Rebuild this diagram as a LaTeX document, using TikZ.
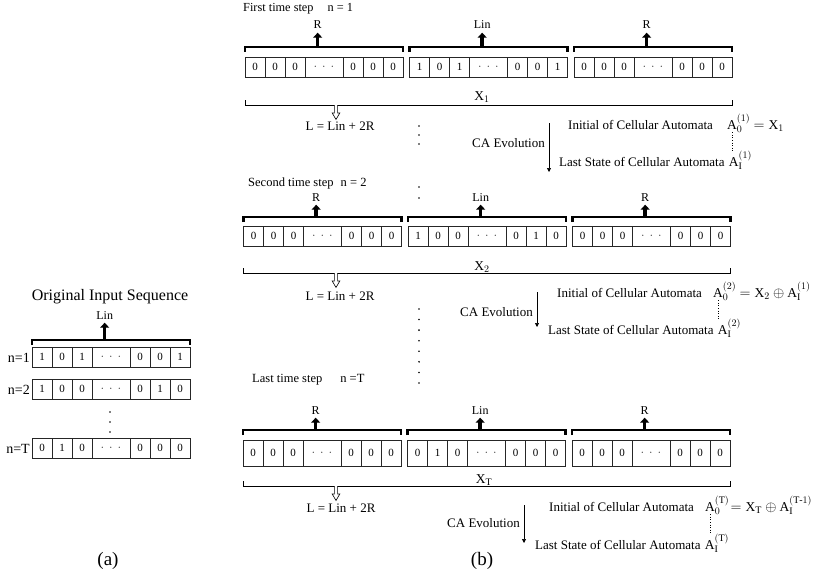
\documentclass[tikz,border=0pt]{standalone}
\usepackage{fontspec}
\setmainfont{Liberation Serif}
\usetikzlibrary{arrows.meta}
\DeclareMathSizes{13.5}{13.5}{10}{8}

% one block of seven cells: three digits, an ellipsis cell, three digits
\newcommand\cellblock[4]{\cellblockaux{#1}{#2}{#3}#4\relax}
\def\cellblockaux#1#2#3#4#5#6#7#8#9\relax{%
  \node[cell,minimum height=#3pt,anchor=north west] (#1-1) at (#2) {#4};
  \node[cell,minimum height=#3pt,anchor=west] (#1-2) at (#1-1.east) {#5};
  \node[cell,minimum height=#3pt,anchor=west] (#1-3) at (#1-2.east) {#6};
  \node[cell,minimum height=#3pt,minimum width=38pt,anchor=west] (#1-4) at (#1-3.east) {$\cdot\mkern5mu\cdot\mkern5mu\cdot$};
  \node[cell,minimum height=#3pt,anchor=west] (#1-5) at (#1-4.east) {#7};
  \node[cell,minimum height=#3pt,anchor=west] (#1-6) at (#1-5.east) {#8};
  \node[cell,minimum height=#3pt,anchor=west] (#1-7) at (#1-6.east) {#9};
}

% heavy bracket over a block, with an arrow up to its label
\newcommand\blockbrace[4]{%
  \draw[brace] ([yshift=#3pt-5pt]#1-1.north west) -- ([yshift=#3pt]#1-1.north west)
     -- ([yshift=#3pt]#1-7.north east) -- ([yshift=#3pt-5pt]#1-7.north east);
  \path ([yshift=#3pt]#1-1.north west) -- ([yshift=#3pt]#1-7.north east) coordinate[pos=0.46] (#1-m);
  \node[lbl,anchor=base] (#1-l) at ([yshift=#4pt]#1-m) {#2};
  \draw[up] (#1-m) -- (#1-l.south);
}

% thin bracket under the three blocks of a row
\newcommand\seqbrace[2]{%
  \coordinate (#1-xl) at ([yshift=-#2pt]#1a-1.south west);
  \coordinate (#1-xr) at ([yshift=-#2pt]#1c-7.south east);
  \draw[xbrace] ([yshift=5pt]#1-xl) -- (#1-xl) -- (#1-xr) -- ([yshift=5pt]#1-xr);
}

% outlined arrow pointing down from a point
\newcommand\hollowdown[1]{\draw[hollow] (#1) ++(-1.6,0) -- ++(0,8) -- ++(-2.2,0)
   -- ++(3.8,6.5) -- ++(3.8,-6.5) -- ++(-2.2,0) -- ++(0,-8);}

\begin{document}
\begin{tikzpicture}[x=1pt,y=-1pt,
  cell/.style={draw=black!85, line width=0.7pt, minimum width=20pt, inner sep=0pt, outer sep=0pt,
               font=\fontsize{11}{12}\selectfont},
  txt/.style={font=\fontsize{13}{15}\selectfont, inner sep=0pt},
  lbl/.style={font=\fontsize{12}{14}\selectfont, inner sep=0pt},
  mth/.style={font=\fontsize{13.5}{15}\selectfont, inner sep=0pt},
  brace/.style={line width=2.6pt},
  xbrace/.style={line width=0.7pt},
  hollow/.style={line width=0.6pt, fill=white},
  up/.style={line width=3.4pt, shorten >=3.5pt, -{Triangle[width=9pt,length=5pt]}},
  evo/.style={line width=0.7pt, -{Triangle[width=4pt,length=4pt]}},
  dotline/.style={line width=0.6pt, dotted},
]
\useasboundingbox (0,0) rectangle (814,578);

% ---------- (a) original input sequence ----------
\node[font=\fontsize{16}{18}\selectfont, inner sep=0pt] (orig) at (110,297) {Original Input Sequence};
\cellblock{in1}{32,347}{20}{101001}
\cellblock{in2}{32,379}{20}{100010}
\cellblock{inT}{32,438}{20}{010000}
\blockbrace{in1}{Lin}{7}{21}
\node[font=\fontsize{14}{16}\selectfont, inner sep=0pt, anchor=base east] (n1) at (30,362) {n=1};
\node[font=\fontsize{14}{16}\selectfont, inner sep=0pt, anchor=base east] (n2) at (30,394) {n=2};
\node[font=\fontsize{14}{16}\selectfont, inner sep=0pt, anchor=base east] (nT) at (30,453) {n=T};
\foreach \y in {412,422,432} \fill (110,\y) circle (0.9pt);
\node[font=\fontsize{19}{21}\selectfont, inner sep=0pt] (capa) at (108,561) {(a)};

% ---------- (b) first time step ----------
\node[font=\fontsize{12.3}{14}\selectfont, inner sep=0pt, anchor=base west] (r1-head) at (243,12) {First time step\hspace{14pt}n = 1};
\cellblock{r1a}{245,57}{20}{000000}
\cellblock{r1b}{409.5,57}{20}{101001}
\cellblock{r1c}{574,57}{20}{000000}
\blockbrace{r1a}{R}{10}{18}
\blockbrace{r1b}{Lin}{10}{18}
\blockbrace{r1c}{R}{10}{18}
\seqbrace{r1}{28}
\node[mth, anchor=base] (r1-x) at (482,100) {$\mathrm{X}_{1}$};
\coordinate (r1-h) at (336,105);
\hollowdown{r1-h}
\node[txt, anchor=base] (r1-L) at (340,130) {L = Lin + 2R};

\node[txt, anchor=base west] (r1-ini) at (568,129) {Initial of Cellular Automata};
\node[mth, anchor=base west] (r1-a0) at (727,129) {$\mathrm{A}_{0}^{(1)}$};
\node[mth, anchor=base west] (r1-eq) at ([xshift=3pt]r1-a0.base east) {$= \mathrm{X}_{1}$};
\node[txt, anchor=base west] (r1-last) at (559,166) {Last State of Cellular Automata};
\node[mth, anchor=base west] (r1-ai) at ([xshift=4pt]r1-last.base east) {$\mathrm{A}_{\mathrm{I}}^{(1)}$};
\draw[dotline] ([xshift=5pt]r1-a0.south west) -- ([xshift=5pt]r1-a0.south west |- r1-ai.north);
\coordinate (r1-et) at (549,123);
\coordinate (r1-eb) at (549,172);
\draw[evo] (r1-et) -- (r1-eb);
\node[txt, anchor=base east] (r1-ca) at (545,147) {CA Evolution};

\foreach \y in {126,135,144,187,198} \fill (419,\y) circle (0.9pt);

% ---------- (b) second time step ----------
\node[font=\fontsize{12.5}{15}\selectfont, inner sep=0pt, anchor=base west] (r2-head) at (248,186) {Second time step\hspace{4pt} n = 2};
\cellblock{r2a}{243.5,226}{20}{000000}
\cellblock{r2b}{408,226}{20}{100010}
\cellblock{r2c}{572.5,226}{20}{000000}
\blockbrace{r2a}{R}{9}{16}
\blockbrace{r2b}{Lin}{9}{16}
\blockbrace{r2c}{R}{9}{16}
\seqbrace{r2}{27}
\node[mth, anchor=base] (r2-x) at (482,270) {$\mathrm{X}_{2}$};
\coordinate (r2-h) at (336,273);
\hollowdown{r2-h}
\node[txt, anchor=base] (r2-L) at (340,300) {L = Lin + 2R};

\node[txt, anchor=base west] (r2-ini) at (557,297) {Initial of Cellular Automata};
\node[mth, anchor=base west] (r2-a0) at (713,297) {$\mathrm{A}_{0}^{(2)}$};
\node[mth, anchor=base west] (r2-eq) at ([xshift=3pt]r2-a0.base east) {$= \mathrm{X}_{2} \oplus \mathrm{A}_{\mathrm{I}}^{(1)}$};
\node[txt, anchor=base west] (r2-last) at (548,334) {Last State of Cellular Automata};
\node[mth, anchor=base west] (r2-ai) at ([xshift=4pt]r2-last.base east) {$\mathrm{A}_{\mathrm{I}}^{(2)}$};
\draw[dotline] ([xshift=5pt]r2-a0.south west) -- ([xshift=5pt]r2-a0.south west |- r2-ai.north);
\coordinate (r2-et) at (537,292);
\coordinate (r2-eb) at (537,327);
\draw[evo] (r2-et) -- (r2-eb);
\node[txt, anchor=base east] (r2-ca) at (533,316) {CA Evolution};

\foreach \i in {0,...,7} \fill (419,309+\i*10.57) circle (0.9pt);

% ---------- (b) last time step ----------
\node[font=\fontsize{12.5}{14}\selectfont, inner sep=0pt, anchor=base west] (r3-head) at (252,382) {Last time step\hspace{18pt}n =T};
\cellblock{r3a}{243,440}{26}{000000}
\cellblock{r3b}{407.5,440}{26}{010000}
\cellblock{r3c}{572,440}{26}{000000}
\blockbrace{r3a}{R}{10}{16}
\blockbrace{r3b}{Lin}{10}{16}
\blockbrace{r3c}{R}{10}{16}
\seqbrace{r3}{20}
\node[mth, anchor=base] (r3-x) at (484,483) {$\mathrm{X}_{\mathrm{T}}$};
\coordinate (r3-h) at (336,486);
\hollowdown{r3-h}
\node[txt, anchor=base] (r3-L) at (341,512) {L = Lin + 2R};

\node[txt, anchor=base west] (r3-ini) at (549,511) {Initial of Cellular Automata};
\node[mth, anchor=base west] (r3-a0) at (705,511) {$\mathrm{A}_{0}^{(\mathrm{T})}$};
\node[mth, anchor=base west] (r3-eq) at ([xshift=1pt]r3-a0.base east) {$= \mathrm{X}_{\mathrm{T}} \oplus \mathrm{A}_{\mathrm{I}}^{(\mathrm{T}\mbox{\fontsize{10}{10}\selectfont -}1)}$};
\node[txt, anchor=base west] (r3-last) at (535,549) {Last State of Cellular Automata};
\node[mth, anchor=base west] (r3-ai) at ([xshift=4pt]r3-last.base east) {$\mathrm{A}_{\mathrm{I}}^{(\mathrm{T})}$};
\draw[dotline] ([xshift=5pt]r3-a0.south west) -- ([xshift=5pt]r3-a0.south west |- r3-ai.north);
\coordinate (r3-et) at (524,505);
\coordinate (r3-eb) at (524,543);
\draw[evo] (r3-et) -- (r3-eb);
\node[txt, anchor=base east] (r3-ca) at (520,527) {CA Evolution};

\node[font=\fontsize{19}{21}\selectfont, inner sep=0pt] (capb) at (482,561) {(b)};
\end{tikzpicture}
\end{document}
